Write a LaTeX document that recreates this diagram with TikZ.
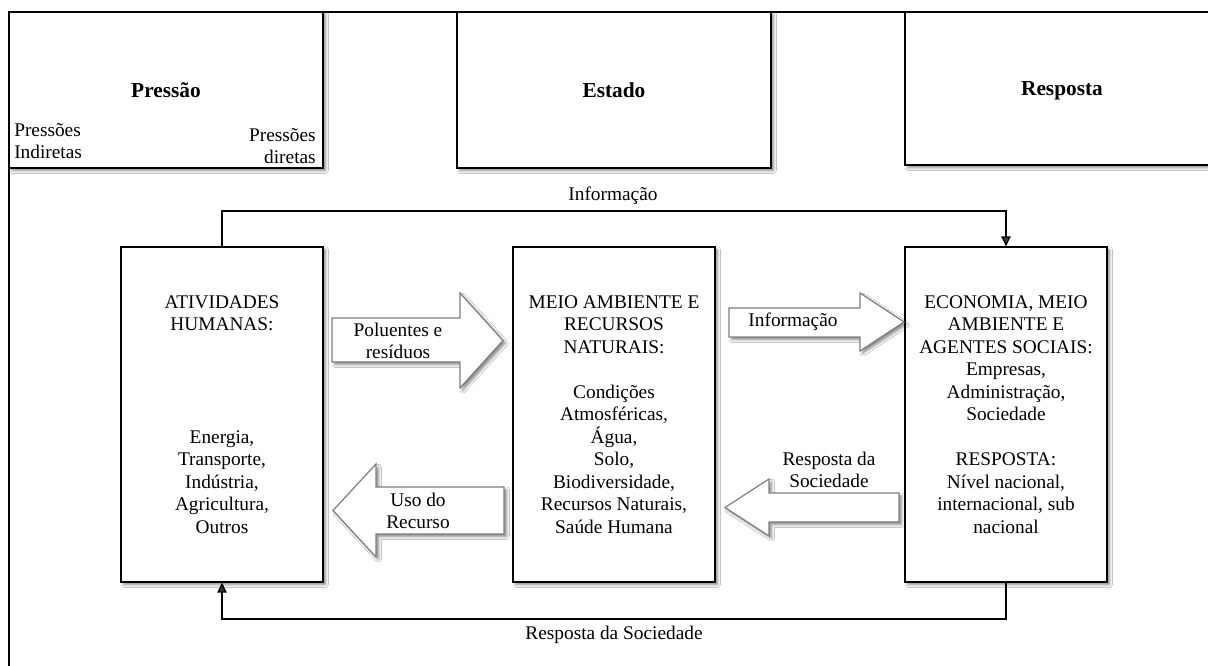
\documentclass[tikz,border=0pt]{standalone}
\usepackage{fontspec}
\setmainfont{Liberation Serif}
\usetikzlibrary{arrows.meta,shadows.blur}
\begin{document}
\begin{tikzpicture}[x=0.75pt,y=-0.75pt,
  shad/.style={blur shadow={shadow xshift=2pt,shadow yshift=-2pt,shadow blur radius=2pt,shadow opacity=45}},
  box/.style={draw=black,line width=0.9pt,fill=white,inner sep=0pt,align=center,
    font=\fontsize{14.5pt}{16.9pt}\selectfont,shad},
  mainbox/.style={box,minimum width=151.5pt,minimum height=251.25pt},
  topbox/.style={box,minimum width=235.5pt,minimum height=117pt,text height=11pt,text depth=0pt,
    font=\fontsize{16pt}{19pt}\selectfont\bfseries},
  lbl/.style={inner sep=0pt,align=center,font=\fontsize{14.5pt}{16pt}\selectfont},
  barrow/.style={draw={rgb,255:red,125;green,125;blue,125},line width=0.9pt,fill=white,line join=miter,shad},
  conn/.style={line width=1pt,-{Triangle[width=7pt,length=7.5pt]}},
  frame/.style={line width=0.9pt}]
\useasboundingbox (0,0) rectangle (1208,666);
\fill[white] (0,0) rectangle (1208,666);

% outer frame
\draw[frame] (9,666) -- (9,12) -- (1208,12);

% top boxes
\node[topbox] (pressao) at (166,90) {Pressão};
\node[topbox] (estado) at (614,90) {Estado};
\node[topbox,minimum height=114.75pt] (resposta) at (1062,88.5) {Resposta};
\node[lbl,align=left,anchor=west] (pind) at (14,141) {Pressões\\Indiretas};
\node[lbl,align=right,anchor=east] (pdir) at (316,146) {Pressões\\diretas};

% main boxes
\node[mainbox] (ativ) at (222,414.5) {ATIVIDADES\\HUMANAS:\\[67.6pt]Energia,\\Transporte,\\Indústria,\\Agricultura,\\Outros};
\node[mainbox] (meio) at (614,414.5) {MEIO AMBIENTE E\\RECURSOS\\NATURAIS:\\[16.9pt]Condições\\Atmosféricas,\\Água,\\Solo,\\Biodiversidade,\\Recursos Naturais,\\Saúde Humana};
\node[mainbox] (econ) at (1006,414.5) {ECONOMIA, MEIO\\AMBIENTE E\\AGENTES SOCIAIS:\\Empresas,\\Administração,\\Sociedade\\[16.9pt]RESPOSTA:\\Nível nacional,\\internacional, sub\\nacional};

% block arrows
\draw[barrow] (332,318) -- (460,318) -- (460,293) -- (503,340.5) -- (460,388) -- (460,362) -- (332,362) -- cycle;
\draw[barrow] (729,308) -- (860,308) -- (860,293) -- (904,322) -- (860,351) -- (860,337) -- (729,337) -- cycle;
\draw[barrow] (504,487) -- (376,487) -- (376,464) -- (333,510.5) -- (376,557) -- (376,534) -- (504,534) -- cycle;
\draw[barrow] (899,493) -- (769,493) -- (769,479) -- (725,507.5) -- (769,536) -- (769,522) -- (899,522) -- cycle;

\node[lbl] (polu) at (398,341) {Poluentes e\\resíduos};
\node[lbl] (infoA) at (793,322) {Informação};
\node[lbl] (uso) at (418,511) {Uso do\\Recurso};
\node[lbl] (respA) at (829,470) {Resposta da\\Sociedade};

% feedback connectors
\coordinate (topY) at (0,211);
\coordinate (botY) at (0,619);
\draw[conn] (ativ.north) -- (ativ.north |- topY) -| (econ.north);
\draw[conn] (econ.south) -- (econ.south |- botY) -| (ativ.south);
\node[lbl] (infoTop) at (613,196) {Informação};
\node[lbl] (respBot) at (614,635) {Resposta da Sociedade};
\end{tikzpicture}
\end{document}
